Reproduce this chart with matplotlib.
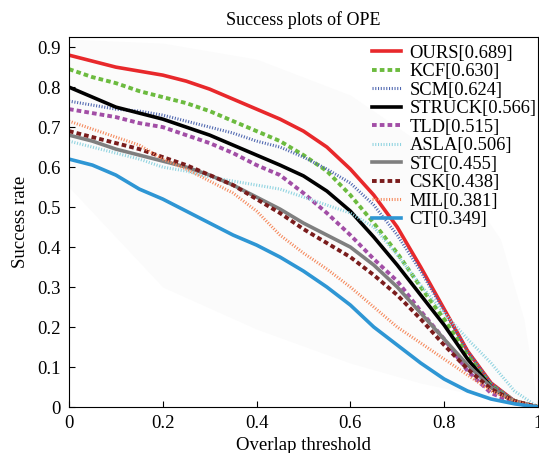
import numpy as np
from matplotlib import pyplot as plt

plt.rcParams['font.family'] = ['Liberation Serif', 'DejaVu Serif']

# overlap thresholds
x = [0, .05, .1, .15, .2, .25, .3, .35, .4, .45, .5,
     .55, .6, .65, .7, .75, .8, .85, .9, .95, 1.0]

ours = [.88, .865, .85, .84, .83, .815, .795, .77, .745, .72, .69,
        .65, .595, .53, .45, .35, .245, .14, .06, .015, 0]
kcf = [.845, .825, .81, .79, .775, .76, .74, .715, .69, .665, .63,
       .59, .53, .46, .385, .30, .22, .13, .055, .015, 0]
scm = [.765, .755, .745, .74, .73, .715, .70, .685, .665, .65, .625,
       .595, .56, .505, .43, .34, .24, .14, .06, .015, 0]
struck = [.80, .775, .75, .735, .72, .70, .68, .655, .63, .605, .578,
          .54, .49, .425, .355, .28, .205, .12, .05, .012, 0]
tld = [.745, .735, .725, .71, .70, .68, .66, .635, .605, .58, .535,
       .485, .43, .37, .315, .24, .17, .09, .035, .01, 0]
asla = [.665, .65, .635, .62, .60, .59, .575, .565, .555, .545, .525,
        .505, .485, .45, .38, .305, .235, .17, .11, .04, 0]
stc = [.68, .665, .645, .63, .615, .60, .58, .555, .525, .495, .46,
       .43, .40, .355, .30, .235, .17, .105, .05, .015, 0]
csk = [.69, .675, .66, .645, .625, .605, .58, .555, .52, .485, .445,
       .41, .375, .33, .28, .22, .155, .095, .045, .015, 0]
mil = [.715, .695, .675, .655, .62, .595, .565, .535, .49, .43, .385,
       .345, .30, .25, .20, .16, .12, .08, .04, .015, 0]
ct = [.62, .605, .58, .545, .52, .49, .46, .43, .405, .375, .34,
      .30, .255, .20, .155, .11, .07, .04, .02, .008, 0]

# faint spread region behind the curves
band_x = [0, .2, .4, .6, .75, .85, .92, .97, 1.0]
band_hi = [.92, .91, .87, .78, .66, .54, .42, .22, 0]
band_lo = [.55, .30, .195, .11, .06, .035, .015, .005, 0]

names = ['OURS[0.689]', 'KCF[0.630]', 'SCM[0.624]', 'STRUCK[0.566]', 'TLD[0.515]',
         'ASLA[0.506]', 'STC[0.455]', 'CSK[0.438]', 'MIL[0.381]', 'CT[0.349]']
series = [ours, kcf, scm, struck, tld, asla, stc, csk, mil, ct]
colors = ['#e8282b', '#6cbb3f', '#4f67b0', 'black', '#a24ea6',
          '#8fd3e0', '#7f7f7f', '#7a1c1c', '#f5895c', '#2e96d4']
styles = ['-', (0, (1.2, 0.8)), (0, (0.35, 0.55)), '-', (0, (1.2, 0.8)),
          (0, (0.35, 0.55)), '-', (0, (1.2, 0.8)), (0, (0.35, 0.55)), '-']
widths = [2.6, 2.8, 2.2, 2.6, 2.8, 2.2, 2.6, 2.8, 2.2, 2.6]

fig = plt.figure(figsize=(5.39, 4.53), dpi=100)
ax = fig.add_axes([0.128, 0.1015, 0.87, 0.8165])

ax.fill_between(band_x, band_lo, band_hi, color='#fbfbfb', lw=0, zorder=0)

for i in range(len(series)):
    ax.plot(x, series[i], color=colors[i], linestyle=styles[i],
            linewidth=widths[i], label=names[i])

ax.set_xlim(0, 1)
ax.set_ylim(0, 0.925)
ax.set_xticks([0, .2, .4, .6, .8, 1])
ax.set_xticklabels(['0', '0.2', '0.4', '0.6', '0.8', '1'])
ax.set_yticks([0, .1, .2, .3, .4, .5, .6, .7, .8, .9])
ax.set_yticklabels(['0', '0.1', '0.2', '0.3', '0.4', '0.5', '0.6', '0.7', '0.8', '0.9'])
ax.tick_params(direction='in', length=4, labelsize=13.5, top=False, right=False, pad=6)

ax.set_xlabel('Overlap threshold', fontsize=13.5, labelpad=3)
ax.set_ylabel('Success rate', fontsize=13.5, labelpad=6)
ax.set_title('Success plots of OPE', fontsize=13, pad=9)

ax.legend(loc='upper right', bbox_to_anchor=(1.021, 1.009), frameon=False,
          fontsize=13.3, handlelength=1.6, handletextpad=0.45, labelspacing=0.08,
          borderaxespad=0.2)

fig.savefig('out.png', dpi=100)
